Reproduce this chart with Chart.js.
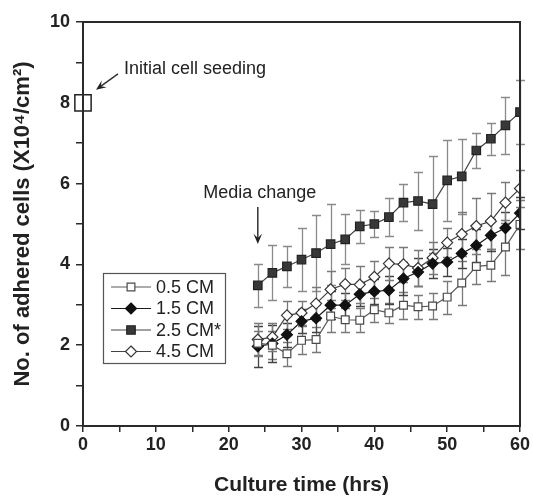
<!DOCTYPE html>
<html>
<head>
<meta charset="utf-8">
<script src="https://cdn.jsdelivr.net/npm/chart.js@4.4.1/dist/chart.umd.min.js"></script>
<style>
  html, body { margin: 0; padding: 0; background: #fff; }
</style>
</head>
<body>
<canvas id="cells" width="533" height="498"></canvas>
<script>
const hours = [24, 26, 28, 30, 32, 34, 36, 38, 40, 42, 44, 46, 48, 50, 52, 54, 56, 58, 60]

const cm05 = [2.05, 2.0, 1.79, 2.12, 2.14, 2.72, 2.63, 2.62, 2.88, 2.8, 2.99, 2.95, 2.97, 3.19, 3.54, 3.95, 3.98, 4.43, 4.99]
const cm15 = [1.97, 2.04, 2.26, 2.59, 2.67, 2.99, 2.99, 3.26, 3.33, 3.36, 3.65, 3.81, 4.02, 4.06, 4.27, 4.47, 4.72, 4.9, 5.27]
const cm25 = [3.48, 3.79, 3.95, 4.12, 4.28, 4.5, 4.62, 4.94, 5.0, 5.17, 5.53, 5.57, 5.49, 6.08, 6.18, 6.82, 7.11, 7.44, 7.77]
const cm45 = [2.14, 2.2, 2.74, 2.8, 3.03, 3.38, 3.51, 3.5, 3.69, 4.02, 4.0, 3.91, 4.16, 4.54, 4.75, 4.95, 5.07, 5.53, 5.88]

const err05 = [0.3, 0.35, 0.3, 0.35, 0.3, 0.4, 0.3, 0.3, 0.3, 0.25, 0.33, 0.3, 0.31, 0.41, 0.55, 0.44, 0.4, 0.68, 0.6]
const err15 = [0.5, 0.45, 0.3, 0.3, 0.35, 0.35, 0.3, 0.3, 0.3, 0.35, 0.4, 0.35, 0.35, 0.35, 0.35, 0.4, 0.4, 0.4, 0.4]
const err25 = [0.53, 0.68, 0.51, 0.77, 0.94, 1.0, 0.62, 0.4, 0.32, 0.47, 0.46, 0.72, 1.2, 1.0, 0.93, 0.44, 0.4, 0.71, 0.8]
const err45 = [0.4, 0.35, 0.35, 0.3, 0.4, 0.45, 0.4, 0.45, 0.4, 0.4, 0.43, 0.45, 0.4, 0.35, 0.55, 0.7, 0.7, 0.5, 0.45]

const seedTime = [0]
const seedCells = [8]

const seriesLabels = ['0.5 CM', '1.5 CM', '2.5 CM*', '4.5 CM']
const xTitle = 'Culture time (hrs)'
const yTitle = 'No. of adhered cells (X10\u2074/cm\u00b2)'

const FONT = '"Liberation Sans", Arial, sans-serif'
const AXIS = '#2a2a2a'

function points(xs, ys) {
  return xs.map((x, i) => ({ x: x, y: ys[i] }))
}

function series(label, ys, err, style) {
  return Object.assign({
    label: label,
    data: points(hours, ys),
    err: err,
    showLine: true,
    borderWidth: 1.2,
    pointBorderWidth: 1.2,
    inLegend: true
  }, style)
}

const datasets = [
  series(seriesLabels[0], cm05, err05, {
    borderColor: '#5a5a5a', pointBorderColor: '#4a4a4a', pointBackgroundColor: '#fff',
    pointStyle: 'rect', pointRadius: 5.5, errColor: '#7a7a7a'
  }),
  series(seriesLabels[1], cm15, err15, {
    borderColor: '#1a1a1a', pointBorderColor: '#111', pointBackgroundColor: '#111',
    pointStyle: 'rectRot', pointRadius: 5.5, errColor: '#444'
  }),
  series(seriesLabels[2], cm25, err25, {
    borderColor: '#444', pointBorderColor: '#222', pointBackgroundColor: '#383838',
    pointStyle: 'rect', pointRadius: 6, errColor: '#8a8a8a'
  }),
  series(seriesLabels[3], cm45, err45, {
    borderColor: '#444', pointBorderColor: '#333', pointBackgroundColor: '#fff',
    pointStyle: 'rectRot', pointRadius: 5.5, errColor: '#7a7a7a'
  }),
  {
    label: 'seeding',
    data: points(seedTime, seedCells),
    showLine: false,
    pointStyle: 'rect',
    pointRadius: 11.5,
    pointBorderWidth: 1.5,
    pointBorderColor: '#222',
    pointBackgroundColor: '#fff',
    clip: false
  }
]

// vertical error bars with caps, drawn under the lines and markers
const errorBars = {
  id: 'errorBars',
  beforeDatasetsDraw(chart) {
    const { ctx, scales: { x, y } } = chart
    chart.data.datasets.forEach(ds => {
      if (!ds.err) return
      ctx.save()
      ctx.strokeStyle = ds.errColor
      ctx.lineWidth = 1.3
      ds.data.forEach((p, i) => {
        const px = Math.round(x.getPixelForValue(p.x)) + 0.5
        const top = Math.round(y.getPixelForValue(p.y + ds.err[i])) + 0.5
        const bot = Math.round(y.getPixelForValue(p.y - ds.err[i])) + 0.5
        ctx.beginPath()
        ctx.moveTo(px, top); ctx.lineTo(px, bot)
        ctx.moveTo(px - 4.5, top); ctx.lineTo(px + 4.5, top)
        ctx.moveTo(px - 4.5, bot); ctx.lineTo(px + 4.5, bot)
        ctx.stroke()
      })
      ctx.restore()
    })
  }
}

function arrow(ctx, x1, y1, x2, y2) {
  const a = Math.atan2(y2 - y1, x2 - x1)
  ctx.beginPath()
  ctx.moveTo(x1, y1); ctx.lineTo(x2 - 4 * Math.cos(a), y2 - 4 * Math.sin(a))
  ctx.stroke()
  ctx.beginPath()
  ctx.moveTo(x2, y2)
  ctx.lineTo(x2 - 11 * Math.cos(a - 0.4), y2 - 11 * Math.sin(a - 0.4))
  ctx.lineTo(x2 - 6 * Math.cos(a), y2 - 6 * Math.sin(a))
  ctx.lineTo(x2 - 11 * Math.cos(a + 0.4), y2 - 11 * Math.sin(a + 0.4))
  ctx.closePath()
  ctx.fill()
}

// frame, annotations and the boxed legend
const extras = {
  id: 'extras',
  afterDraw(chart) {
    const { ctx, chartArea: area, scales: { x, y } } = chart
    ctx.save()
    ctx.strokeStyle = AXIS
    ctx.lineWidth = 2
    ctx.strokeRect(area.left, area.top, area.right - area.left, area.bottom - area.top)

    ctx.fillStyle = '#222'
    ctx.strokeStyle = '#333'
    ctx.lineWidth = 1.5
    ctx.font = '18px ' + FONT
    ctx.textBaseline = 'alphabetic'
    ctx.textAlign = 'left'
    ctx.fillText('Initial cell seeding', 124, 74)
    const sx = x.getPixelForValue(seedTime[0]), sy = y.getPixelForValue(seedCells[0])
    arrow(ctx, sx + 35, sy - 29, sx + 13, sy - 13)

    const mx = x.getPixelForValue(hours[0])
    ctx.textAlign = 'center'
    ctx.fillText('Media change', mx + 2, 198)
    arrow(ctx, mx, 207, mx, 244)

    // legend
    const lx = 103, ly = 273, lw = 122, lh = 90
    ctx.strokeStyle = '#555'
    ctx.lineWidth = 1.2
    ctx.strokeRect(lx + 0.5, ly + 0.5, lw, lh)
    ctx.textAlign = 'left'
    ctx.textBaseline = 'middle'
    ctx.font = '18px ' + FONT
    chart.data.datasets.filter(d => d.inLegend).forEach((ds, i) => {
      const cy = ly + 14 + i * 21.5
      ctx.strokeStyle = ds.borderColor
      ctx.lineWidth = 1.2
      ctx.beginPath()
      ctx.moveTo(lx + 8, cy); ctx.lineTo(lx + 48, cy)
      ctx.stroke()
      ctx.fillStyle = ds.pointBackgroundColor
      ctx.strokeStyle = ds.pointBorderColor
      const r = ds.pointRadius, cx = lx + 28
      ctx.beginPath()
      if (ds.pointStyle === 'rect') {
        const s = r * Math.SQRT1_2
        ctx.rect(cx - s, cy - s, 2 * s, 2 * s)
      } else {
        ctx.moveTo(cx, cy - r); ctx.lineTo(cx + r, cy); ctx.lineTo(cx, cy + r); ctx.lineTo(cx - r, cy)
        ctx.closePath()
      }
      ctx.fill(); ctx.stroke()
      ctx.fillStyle = '#222'
      ctx.fillText(ds.label, lx + 53, cy + 1)
    })
    ctx.restore()
  }
}

new Chart(document.getElementById('cells'), {
  type: 'scatter',
  data: { datasets: datasets },
  options: {
    responsive: false,
    animation: false,
    layout: { padding: { top: 22, right: 11, left: 0, bottom: 0 } },
    plugins: {
      legend: { display: false },
      tooltip: { enabled: false }
    },
    scales: {
      x: {
        type: 'linear',
        min: 0, max: 60,
        afterFit(scale) { scale.height = 72 },
        border: { display: true, color: AXIS, width: 2 },
        grid: { drawOnChartArea: false, drawTicks: true, tickLength: 6, color: AXIS, lineWidth: 1.5 },
        ticks: {
          stepSize: 5, padding: 2, color: '#222', maxRotation: 0,
          font: { family: FONT, size: 18, weight: 'bold' },
          callback: v => (v % 10 === 0 ? v : '')
        },
        title: {
          display: true, text: xTitle, color: '#222',
          font: { family: FONT, size: 21, weight: 'bold' },
          padding: { top: 0, bottom: 0 }
        }
      },
      y: {
        type: 'linear',
        min: 0, max: 10,
        afterFit(scale) { scale.width = 83 },
        border: { display: true, color: AXIS, width: 2 },
        grid: { drawOnChartArea: false, drawTicks: true, tickLength: 7, color: AXIS, lineWidth: 1.5 },
        ticks: {
          stepSize: 1, padding: 6, color: '#222',
          font: { family: FONT, size: 18, weight: 'bold' },
          callback: v => (v % 2 === 0 ? v : '')
        },
        title: {
          display: true, text: yTitle, color: '#222',
          font: { family: FONT, size: 22, weight: 'bold' },
          padding: { top: 10, bottom: 0 }
        }
      }
    }
  },
  plugins: [errorBars, extras]
})
</script>
</body>
</html>
